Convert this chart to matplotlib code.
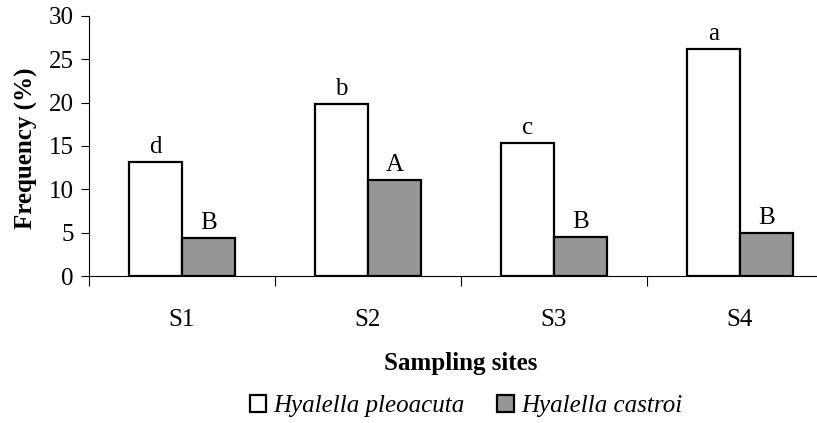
import numpy as np
import matplotlib.pyplot as plt
from matplotlib.ticker import FixedLocator

# data
sites = ['S1', 'S2', 'S3', 'S4']
pleoacuta = [13.1, 19.8, 15.3, 26.2]
castroi = [4.4, 11.1, 4.5, 5.0]
pleo_letters = ['d', 'b', 'c', 'a']
castroi_letters = ['B', 'A', 'B', 'B']

plt.rcParams['font.family'] = ['Liberation Serif', 'DejaVu Serif']
FS = 18

fig = plt.figure(figsize=(8.17, 4.23), dpi=100)
ax = fig.add_axes([0.109, 0.3475, 0.9106, 0.6147])

x = np.arange(len(sites))
w = 0.285
b1 = ax.bar(x - w / 2, pleoacuta, w, color='white', edgecolor='black', linewidth=1.6,
            label='Hyalella pleoacuta', zorder=3)
b2 = ax.bar(x + w / 2, castroi, w, color='#969696', edgecolor='black', linewidth=1.6,
            label='Hyalella castroi', zorder=3)

for rect, t in zip(b1, pleo_letters):
    ax.annotate(t, (rect.get_x() + rect.get_width() / 2, rect.get_height()),
                xytext=(0, 3), textcoords='offset points', ha='center', va='bottom', fontsize=FS)
for rect, t in zip(b2, castroi_letters):
    ax.annotate(t, (rect.get_x() + rect.get_width() / 2, rect.get_height()),
                xytext=(0, 3), textcoords='offset points', ha='center', va='bottom', fontsize=FS)

ax.set_xlim(-0.5, 3.5)
ax.set_ylim(0, 30)
ax.set_yticks([0, 5, 10, 15, 20, 25, 30])
ax.tick_params(axis='y', direction='out', length=6, width=0.8, pad=5, labelsize=FS)

ax.set_xticks(x)
ax.set_xticklabels(sites)
ax.xaxis.set_minor_locator(FixedLocator([-0.5, 0.5, 1.5, 2.5, 3.5]))
ax.tick_params(axis='x', which='major', length=0, pad=24, labelsize=FS)
ax.tick_params(axis='x', which='minor', direction='out', length=7, width=0.8)

for s in ['top', 'right']:
    ax.spines[s].set_visible(False)
for s in ['left', 'bottom']:
    ax.spines[s].set_linewidth(0.8)

fig.text(26 / 817, 1 - 148 / 423, 'Frequency (%)', rotation=90, ha='center', va='center',
         fontsize=FS, fontweight='bold')
fig.text(461 / 817, 1 - 363 / 423, 'Sampling sites', ha='center', va='center',
         fontsize=FS, fontweight='bold')

fig.legend(handles=[b1, b2], loc='center', bbox_to_anchor=(466 / 817, 1 - 406 / 423), ncol=2,
           frameon=False, prop={'style': 'italic', 'size': FS}, handlelength=0.65,
           handleheight=0.65, handletextpad=0.3, columnspacing=1.3, borderaxespad=0)

fig.savefig('out.png', dpi=100)
